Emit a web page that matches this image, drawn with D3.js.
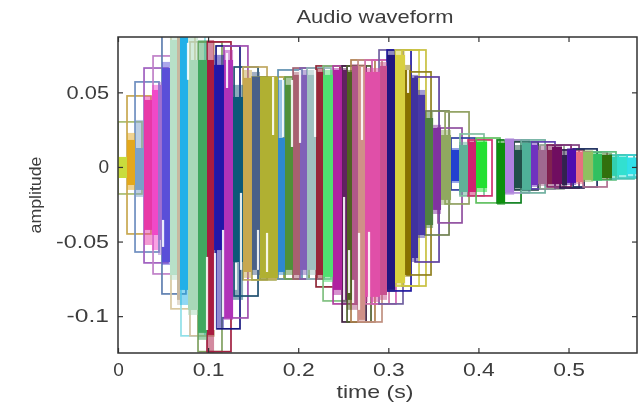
<!DOCTYPE html>
<html><head><meta charset="utf-8">
<script src="https://d3js.org/d3.v7.min.js"></script>
<style>html,body{margin:0;padding:0;background:#fff}svg{display:block}</style>
</head><body><div id="c"></div>
<script>
const xTicks=[0,0.1,0.2,0.3,0.4,0.5];
const yTicks=[0.05,0,-0.05,-0.1];
const frameLength=0.0266;
const frameStart=[0,.01,.0189,.0289,.0389,.0488,.0588,.0699,.0799,.0888,.0988,.1088,.1176,.1288,.1388,.1487,.1576,.1676,.1776,.1854,.1943,.202,.2098,.2198,.2276,.2387,.2487,.2542,.2586,.2664,.2742,.2819,.2897,.2986,.3075,.3152,.3208,.3297,.3408,.3552,.363,.3696,.3796,.3885,.3974,.4207,.4296,.4396,.4474,.4584,.4684,.4762,.4851,.4906,.5051,.5162,.5261,.5461,.555,.565];
const frameTop=[.0302,.0476,.057,.0663,.0744,.09,.09,.09,.0838,.0838,.0838,.0811,.0811,.067,.067,.0603,.0603,.0603,.065,.0603,.0663,.0663,.0663,.0677,.0677,.0677,.0677,.0677,.0717,.0717,.0717,.0717,.0784,.0784,.0784,.0784,.0637,.0603,.0375,.0261,.0369,.0194,.0221,.0181,.0194,.0181,.0181,.0168,.0181,.0168,.0147,.0147,.0147,.0114,.0121,.0101,.0101,.008,.008,.008];
const frameBottom=[-.0181,-.0449,-.057,-.0643,-.0717,-.0851,-.0951,-.1132,-.1132,-.1238,-.1238,-.1085,-.1012,-.0865,-.0757,-.0757,-.0751,-.0751,-.0751,-.0751,-.0751,-.0751,-.0751,-.0804,-.0898,-.0918,-.1039,-.1039,-.1039,-.1039,-.0918,-.0918,-.0918,-.0831,-.0798,-.0798,-.0724,-.0637,-.0456,-.0375,-.0248,-.0154,-.0194,-.0194,-.0241,-.0241,-.0174,-.0154,-.0174,-.0147,-.0147,-.0134,-.0141,-.0141,-.0134,-.0134,-.0087,-.008,-.0074,-.0067];
const frameColor=["#a8bc70","#c8a850","#6f8fc0","#a060c0","#c080c8","#6080b0","#d8c8a0","#90e0e8","#d0c0a0","#80a060","#a02040","#181880","#a050b0","#205070","#c0a860","#a8a850","#a0a040","#c0b060","#6090b0","#70a050","#a06070","#8060b0","#90b8b8","#902838","#80c080","#b040a0","#402040","#506030","#b08050","#c09080","#d070a8","#d060b0","#7060a0","#2018a0","#d0d050","#c8c040","#908020","#6040a0","#708050","#9050a0","#90a060","#3040a0","#80c0a0","#d03070","#60c060","#108020","#b090d8","#204040","#70b0a0","#6040b0","#90a090","#802060","#804080","#302050","#203060","#b07090","#60c080","#50c0b0","#40c8b8","#40d0d0"];
const waveStart=[0,.01,.0189,.0289,.0377,.0444,.0488,.0577,.0655,.0688,.0777,.0888,.0988,.1066,.1176,.1277,.1388,.1487,.1576,.1776,.1854,.1943,.202,.2098,.2198,.2276,.2387,.2487,.2542,.2597,.2664,.2742,.2908,.2986,.3075,.3186,.3252,.333,.3408,.3497,.3585,.3696,.3785,.3885,.3974,.4096,.4207,.4296,.4396,.4484,.4584,.4662,.4762,.4817,.4928,.4984,.5084,.5162,.5273,.5372,.5483,.5539,.565,.576];
const waveHi=[.0067,.0181,.0127,.0449,.0516,.055,.0663,.0851,.09,.09,.0717,.0717,.0717,.0684,.0717,.0469,.0597,.0603,.0603,.0194,.055,.0617,.0617,.0617,.0637,.0617,.065,.065,.0637,.0677,.0677,.0637,.0677,.0751,.0751,.065,.0597,.0483,.0328,.0261,.0214,.0114,.0147,.0168,.0168,0,.0161,.0181,.0114,.0161,.0147,.0114,.0114,.0134,.008,.0114,.0101,.0101,.0087,.008,.0067,.0067,.006];
const waveLo=[-.0074,-.0121,-.0154,-.0422,-.0456,-.0489,-.0637,-.0724,-.0891,-.0824,-.0958,-.1112,-.1126,-.0557,-.1012,-.0637,-.0704,-.069,-.0744,-.0704,-.069,-.0724,-.069,-.069,-.0724,-.0737,-.0824,-.0891,-.0891,-.0925,-.1025,-.0871,-.0858,-.0824,-.0778,-.0724,-.061,-.0456,-.0389,-.0288,-.0221,-.0094,-.0168,-.0168,-.0141,0,-.0241,-.0168,-.0141,-.0154,-.0121,-.0114,-.0114,-.0114,-.0121,-.0107,-.0101,-.0087,-.0087,-.0074,-.006,-.0054,-.0047];
const peakHi=[.0067,.0228,.0315,.0476,.055,.057,.0704,.0871,.09,.09,.09,.0851,.0851,.0751,.0784,.055,.065,.0637,.0603,.0583,.0597,.0637,.065,.065,.0663,.065,.0663,.0663,.065,.069,.069,.0663,.0704,.0784,.0784,.0684,.0617,.0516,.0369,.0282,.0248,.0127,.0168,.0181,.0181,0,.0181,.0194,.0147,.0174,.0161,.0141,.0141,.0147,.0114,.0127,.0114,.0114,.0101,.0094,.008,.008,.0067];
const peakLo=[-.0074,-.0154,-.0201,-.0523,-.0557,-.059,-.0657,-.0757,-.0925,-.0925,-.0992,-.1159,-.1246,-.1079,-.1025,-.0891,-.0744,-.0724,-.0744,-.0724,-.0724,-.0744,-.0724,-.0724,-.0757,-.0771,-.0858,-.0925,-.0958,-.0958,-.1039,-.0905,-.0891,-.0838,-.0798,-.0737,-.0637,-.0476,-.0409,-.0315,-.0255,-.0107,-.0188,-.0188,-.0168,0,-.0255,-.0188,-.0154,-.0168,-.0134,-.0127,-.0127,-.0127,-.0134,-.0121,-.0114,-.0101,-.0094,-.0087,-.0074,-.0067,-.0060];
const waveColor=["#c9dc3c","#e3a81f","#7aa0c8","#e838a8","#f048c8","#a070d0","#5a50d8","#b8e0c8","#c8b8a0","#20b0e8","#a8d8b8","#40a860","#a81c40","#2018a8","#b030b8","#105878","#c8a850","#486088","#b0b030","#2f88d0","#509038","#a86070","#8060b8","#a0c0c0","#982838","#50e070","#b020a0","#602060","#506020","#b05888","#d09088","#e050a8","#c85090","#201880","#d8d040","#887000","#4030a0","#4838a8","#508040","#8030a0","#90a860","#2040d0","#60b098","#d02070","#20e030","#ffffff","#109010","#b080e0","#205048","#50b098","#7030c0","#a06890","#802050","#701060","#302050","#5010b0","#e87080","#90c060","#30c060","#307010","#30d0b0","#30e0d0","#30e0e8"];
// pale gaps between the dense oscillations of the waveform
const gapTime=[.0777,.121,.1721,.1832,.1931,.202,.2187,.2708,.3219,.05,.1166,.1077,.0988,.1365,.131,.1554,.1654,.2509,.2564,.2609,.2675,.2786];
const gapHi=[.0832,.0764,.0603,.0583,.0583,.065,.065,.067,.065,-.0355,-.0422,-.0577,-.0603,-.0174,-.0643,-.0422,-.0442,-.0201,-.0557,-.0757,-.0442,-.0435];
const gapLo=[.0584,.0529,.0214,.0201,.0134,.0161,.0201,.0181,.0496,-.0536,-.1005,-.1093,-.1093,-.069,-.0824,-.069,-.0704,-.0891,-.0845,-.0912,-.0958,-.0912];

const W=641,H=404,L=118,R=637,T=37,B=353;
const x=d3.scaleLinear().domain([0,.576]).range([L,R]);
const y=d3.scaleLinear().domain([.0871,-.1247]).range([T,B]);
const svg=d3.select("#c").append("svg").attr("width",W).attr("height",H)
  .style("font-family","'Liberation Sans',Arial,sans-serif");
const defs=svg.append("defs");
defs.append("clipPath").attr("id","plot").append("rect").attr("x",L).attr("y",T).attr("width",R-L).attr("height",B-T);
defs.append("filter").attr("id","soft").attr("filterUnits","userSpaceOnUse").attr("x",0).attr("y",0).attr("width",W).attr("height",H)
  .append("feGaussianBlur").attr("stdDeviation",.45);
const outer=svg.append("g").attr("filter","url(#soft)");
const g=outer.append("g").attr("clip-path","url(#plot)");
g.selectAll("rect.frame").data(frameStart).join("rect").attr("class","frame")
  .attr("x",d=>x(d)).attr("width",x(frameLength)-x(0))
  .attr("y",(d,i)=>y(frameTop[i])).attr("height",(d,i)=>y(frameBottom[i])-y(frameTop[i]))
  .attr("fill","none").attr("stroke",(d,i)=>frameColor[i]).attr("stroke-width",1.7);
const waves=waveStart.slice(0,-1);
g.selectAll("rect.peak").data(waves).join("rect").attr("class","peak")
  .attr("x",d=>x(d)).attr("width",(d,i)=>x(waveStart[i+1])-x(d))
  .attr("y",(d,i)=>y(peakHi[i])).attr("height",(d,i)=>y(peakLo[i])-y(peakHi[i]))
  .attr("fill",(d,i)=>waveColor[i]).attr("fill-opacity",.5);
g.selectAll("rect.wave").data(waves).join("rect").attr("class","wave")
  .attr("x",d=>x(d)).attr("width",(d,i)=>x(waveStart[i+1])-x(d))
  .attr("y",(d,i)=>y(waveHi[i])).attr("height",(d,i)=>y(waveLo[i])-y(waveHi[i]))
  .attr("fill",(d,i)=>waveColor[i]);
g.selectAll("line.gap").data(gapTime).join("line").attr("class","gap")
  .attr("x1",d=>x(d)).attr("x2",d=>x(d))
  .attr("y1",(d,i)=>y(gapHi[i])).attr("y2",(d,i)=>y(gapLo[i]))
  .attr("stroke","#fff").attr("stroke-opacity",.88).attr("stroke-width",2.2);

const ink="#333";
const ax=outer.append("g");
ax.append("rect").attr("x",L).attr("y",T).attr("width",R-L).attr("height",B-T).attr("fill","none").attr("stroke",ink).attr("stroke-width",1.5);
function stretch(sel,per){sel.attr("textLength",function(){return per(this.textContent)}).attr("lengthAdjust","spacingAndGlyphs");}
const axBottom=ax.append("g").attr("transform",`translate(0,${B})`)
  .call(d3.axisBottom(x).tickValues(xTicks).tickFormat(d=>d===0?"0":String(d)).tickSizeInner(-5).tickSizeOuter(0).tickPadding(10));
const axTop=ax.append("g").attr("transform",`translate(0,${T})`)
  .call(d3.axisTop(x).tickValues(xTicks).tickFormat("").tickSizeInner(-5).tickSizeOuter(0));
const axLeft=ax.append("g").attr("transform",`translate(${L},0)`)
  .call(d3.axisLeft(y).tickValues(yTicks).tickFormat(d=>String(d)).tickSizeInner(-5).tickSizeOuter(0).tickPadding(9));
const axRight=ax.append("g").attr("transform",`translate(${R},0)`)
  .call(d3.axisRight(y).tickValues(yTicks).tickFormat("").tickSizeInner(-5).tickSizeOuter(0));
ax.selectAll(".domain").remove();
ax.selectAll(".tick line").attr("stroke",ink).attr("stroke-width",1.2);
ax.selectAll(".tick text").attr("fill","#3c3c3c").attr("font-size",18).attr("font-family","'Liberation Sans',Arial,sans-serif");
axBottom.selectAll(".tick text").attr("dy",null).attr("y",23);
stretch(ax.selectAll(".tick text"),s=>s.length*10.6);
const label=(txt,px,py,size,len,rot)=>{const e=outer.append("text").text(txt).attr("text-anchor","middle").attr("fill","#3c3c3c").attr("font-size",size)
  .attr("textLength",len).attr("lengthAdjust","spacingAndGlyphs");
  if(rot)e.attr("transform",`translate(${px},${py}) rotate(-90)`);else e.attr("x",px).attr("y",py);};
label("Audio waveform",375,23,19,157);
label("time (s)",375,398,19,77);
label("amplitude",41,195,17,77,true);
</script></body></html>
